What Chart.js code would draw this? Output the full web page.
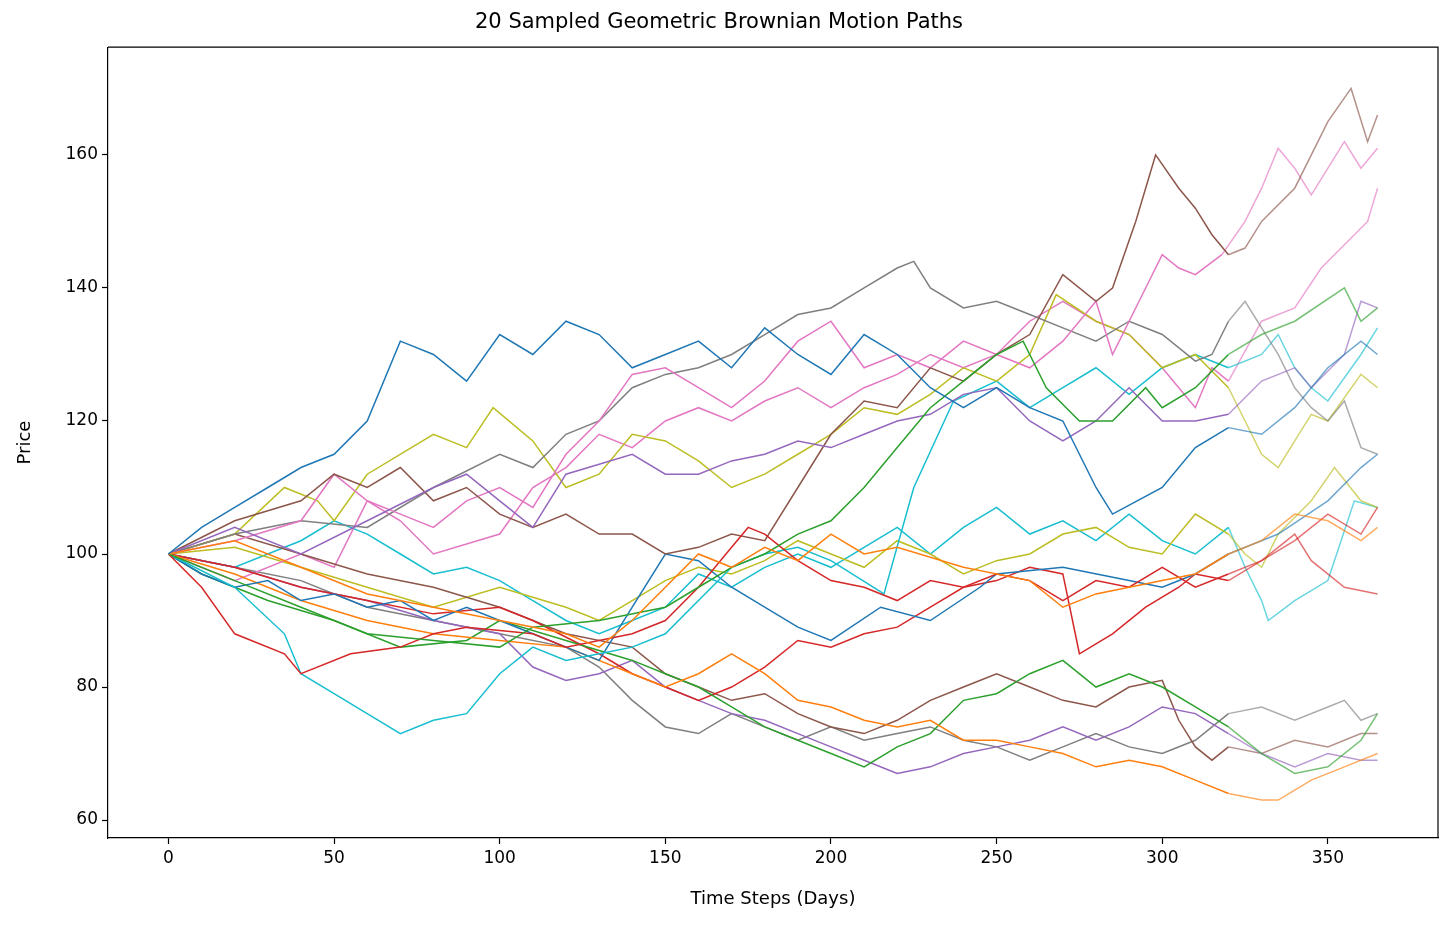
<!DOCTYPE html>
<html>
<head>
<meta charset="utf-8">
<script src="https://cdn.jsdelivr.net/npm/chart.js@4"></script>
<style>
  html, body { margin: 0; padding: 0; background: #fff; }
  #wrap { width: 1449px; height: 925px; }
</style>
</head>
<body>
<div id="wrap"><canvas id="gbm"></canvas></div>
<script>
// Paths as [day, price] pairs
const blueTop = [[0,100],[10,104],[20,107],[30,110],[40,113],[50,115],[60,120],[70,132],[80,130],[90,126],[100,133],[110,130],[120,135],[130,133],[140,128],[150,130],[160,132],[170,128],[180,134],[190,130],[200,127],[210,133],[220,130],[230,125],[240,122],[250,125],[260,122],[270,120],[280,110],[285,106],[300,110],[310,116],[320,119],[330,118],[340,122],[350,128],[360,132],[365,130]];
const blueMid = [[0,100],[10,97],[20,95],[30,96],[40,93],[50,94],[60,92],[70,93],[80,90],[90,92],[100,90],[110,88],[120,86],[130,84],[140,92],[150,100],[160,99],[170,95],[180,92],[190,89],[200,87],[215,92],[230,90],[245,95],[250,97],[270,98],[290,96],[300,95],[310,97],[320,100],[335,103],[350,108],[360,113],[365,115]];
const orangeUp = [[0,100],[20,102],[40,98],[60,94],[80,92],[100,90],[120,88],[130,86],[140,90],[150,95],[160,100],[170,98],[180,101],[190,99],[200,103],[210,100],[220,101],[240,98],[260,96],[270,92],[280,94],[300,96],[310,97],[320,100],[330,102],[340,106],[350,105],[360,102],[365,104]];
const orangeLow = [[0,100],[20,97],[40,93],[60,90],[80,88],[100,87],[120,86],[140,82],[150,80],[160,82],[170,85],[180,82],[190,78],[200,77],[210,75],[220,74],[230,75],[240,72],[250,72],[260,71],[270,70],[280,68],[290,69],[300,68],[310,66],[320,64],[330,63],[335,63],[345,66],[355,68],[365,70]];
const greenUp = [[0,100],[20,96],[40,92],[60,88],[80,87],[100,86],[110,89],[130,90],[150,92],[160,95],[170,98],[180,100],[190,103],[200,105],[210,110],[220,116],[230,122],[240,126],[250,130],[258,132],[265,125],[275,120],[285,120],[295,125],[300,122],[310,125],[320,130],[330,133],[340,135],[355,140],[360,135],[365,137]];
const greenLow = [[0,100],[10,97],[30,93],[50,90],[70,86],[90,87],[100,90],[120,87],[140,84],[150,82],[160,80],[170,77],[180,74],[190,72],[200,70],[210,68],[220,71],[230,73],[240,78],[250,79],[260,82],[270,84],[280,80],[290,82],[300,80],[310,77],[320,74],[330,70],[340,67],[350,68],[360,72],[365,76]];
const redLow = [[0,100],[10,95],[20,88],[35,85],[40,82],[55,85],[70,86],[80,88],[90,89],[110,88],[120,86],[130,87],[140,88],[150,90],[160,95],[170,101],[175,104],[180,103],[190,99],[200,96],[210,95],[220,93],[230,96],[240,95],[250,97],[260,96],[270,93],[280,96],[290,95],[300,98],[310,95],[320,97],[330,99],[340,103],[345,99],[355,95],[365,94]];
const redMid = [[0,100],[20,98],[40,95],[60,93],[80,91],[100,92],[110,90],[130,85],[140,82],[150,80],[160,78],[170,80],[180,83],[190,87],[200,86],[210,88],[220,89],[230,92],[240,95],[250,96],[260,98],[270,97],[275,85],[285,88],[295,92],[305,95],[310,97],[320,96],[330,99],[340,102],[350,106],[360,103],[365,107]];
const purpleUp = [[0,100],[20,104],[40,100],[60,105],[80,110],[90,112],[100,108],[110,104],[120,112],[140,115],[150,112],[160,112],[170,114],[180,115],[190,117],[200,116],[210,118],[220,120],[230,121],[240,124],[250,125],[260,120],[270,117],[280,120],[290,125],[300,120],[310,120],[320,121],[330,126],[340,128],[345,125],[355,130],[360,138],[365,137]];
const purpleLow = [[0,100],[20,98],[40,95],[60,93],[80,90],[100,88],[110,83],[120,81],[130,82],[140,84],[150,80],[160,78],[170,76],[180,75],[190,73],[200,71],[210,69],[220,67],[230,68],[240,70],[250,71],[260,72],[270,74],[280,72],[290,74],[300,77],[310,76],[320,73],[330,70],[340,68],[350,70],[360,69],[365,69]];
const brownUp = [[0,100],[20,105],[40,108],[50,112],[60,110],[70,113],[80,108],[90,110],[100,106],[110,104],[120,106],[130,103],[140,103],[150,100],[160,101],[170,103],[180,102],[190,110],[200,118],[210,123],[220,122],[230,128],[240,126],[250,130],[260,133],[270,142],[280,138],[285,140],[292,150],[298,160],[305,155],[310,152],[315,148],[320,145],[325,146],[330,150],[340,155],[350,165],[357,170],[362,162],[365,166]];
const brownLow = [[0,100],[20,103],[40,100],[60,97],[80,95],[100,92],[120,88],[140,86],[150,82],[160,80],[170,78],[180,79],[190,76],[200,74],[210,73],[220,75],[230,78],[240,80],[250,82],[260,80],[270,78],[280,77],[290,80],[300,81],[305,75],[310,71],[315,69],[320,71],[330,70],[340,72],[350,71],[360,73],[365,73]];
const pinkTop = [[0,100],[20,102],[40,105],[50,112],[60,108],[70,106],[80,104],[90,108],[100,110],[110,107],[120,115],[130,120],[140,127],[150,128],[160,125],[170,122],[180,126],[190,132],[200,135],[210,128],[220,130],[230,128],[240,132],[250,130],[260,128],[270,132],[280,138],[285,130],[295,140],[300,145],[305,143],[310,142],[318,145],[325,150],[330,155],[335,161],[340,158],[345,154],[355,162],[360,158],[365,161]];
const pinkMid = [[0,100],[20,96],[40,100],[50,98],[60,108],[70,105],[80,100],[100,103],[110,110],[120,113],[130,118],[140,116],[150,120],[160,122],[170,120],[180,123],[190,125],[200,122],[210,125],[220,127],[230,130],[240,128],[250,130],[260,135],[270,138],[280,135],[290,133],[300,128],[305,125],[310,122],[315,128],[320,126],[330,135],[340,137],[348,143],[358,148],[362,150],[365,155]];
const grayUp = [[0,100],[20,103],[40,105],[60,104],[80,110],[100,115],[110,113],[120,118],[130,120],[140,125],[150,127],[160,128],[170,130],[180,133],[190,136],[200,137],[210,140],[220,143],[225,144],[230,140],[240,137],[250,138],[260,136],[270,134],[280,132],[290,135],[300,133],[310,129],[315,130],[320,135],[325,138],[330,134],[335,130],[340,125],[345,122],[350,120],[355,123],[360,116],[365,115]];
const grayLow = [[0,100],[20,98],[40,96],[60,92],[80,90],[100,88],[120,86],[130,83],[140,78],[150,74],[160,73],[170,76],[180,74],[190,72],[200,74],[210,72],[220,73],[230,74],[240,72],[250,71],[260,69],[270,71],[280,73],[290,71],[300,70],[310,72],[320,76],[330,77],[340,75],[350,77],[355,78],[360,75],[365,76]];
const oliveUp = [[0,100],[20,103],[35,110],[45,108],[50,105],[60,112],[80,118],[90,116],[98,122],[110,117],[120,110],[130,112],[140,118],[150,117],[160,114],[170,110],[180,112],[190,115],[200,118],[210,122],[220,121],[230,124],[240,128],[250,126],[260,130],[268,139],[280,135],[290,133],[300,128],[310,130],[320,125],[325,120],[330,115],[335,113],[340,117],[345,121],[350,120],[360,127],[365,125]];
const oliveLow = [[0,100],[20,101],[40,98],[60,95],[80,92],[100,95],[120,92],[130,90],[140,93],[150,96],[160,98],[170,97],[180,99],[190,102],[200,100],[210,98],[220,102],[230,100],[240,97],[250,99],[260,100],[270,103],[280,104],[290,101],[300,100],[310,106],[320,103],[325,100],[330,98],[335,103],[345,108],[352,113],[360,108],[365,107]];
const cyanUp = [[0,100],[20,95],[35,88],[40,82],[50,79],[60,76],[70,73],[80,75],[90,76],[100,82],[110,86],[120,84],[130,85],[140,86],[150,88],[160,93],[170,98],[180,100],[190,101],[200,99],[216,94],[225,110],[237,123],[250,126],[260,122],[270,125],[280,128],[290,124],[300,128],[310,130],[320,128],[330,130],[335,133],[340,128],[345,125],[350,123],[360,130],[365,134]];
const cyanLow = [[0,100],[20,98],[40,102],[50,105],[60,103],[70,100],[80,97],[90,98],[100,96],[110,93],[120,90],[130,88],[140,90],[150,92],[160,97],[170,95],[180,98],[190,100],[200,98],[210,101],[220,104],[230,100],[240,104],[250,107],[260,103],[270,105],[280,102],[290,106],[300,102],[310,100],[320,104],[325,98],[330,93],[332,90],[340,93],[350,96],[358,108],[365,107]];

const pathNames = ['blueTop','orangeUp','greenUp','redLow','purpleUp','brownUp','pinkTop','grayUp','oliveUp','cyanUp',
                   'blueMid','orangeLow','greenLow','redMid','purpleLow','brownLow','pinkMid','grayLow','oliveLow','cyanLow'];
const paths = [blueTop, orangeUp, greenUp, redLow, purpleUp, brownUp, pinkTop, grayUp, oliveUp, cyanUp,
               blueMid, orangeLow, greenLow, redMid, purpleLow, brownLow, pinkMid, grayLow, oliveLow, cyanLow];
const xTicks = [0, 50, 100, 150, 200, 250, 300, 350];
const yTicks = [60, 80, 100, 120, 140, 160];

const tab10 = ['31,119,180','255,127,14','44,160,44','214,39,40','148,103,189',
               '140,86,75','227,119,194','127,127,127','188,189,34','23,190,207'];
const FADE_DAY = 318;

const datasets = paths.map((p, i) => {
    const rgb = tab10[i % 10];
    return {
        label: pathNames[i],
        data: p.map(d => ({ x: d[0], y: d[1] })),
        borderColor: 'rgb(' + rgb + ')',
        borderWidth: 1.5,
        pointRadius: 0,
        tension: 0,
        segment: {
            borderColor: ctx => ctx.p0.parsed.x >= FADE_DAY ? 'rgba(' + rgb + ',0.65)' : 'rgb(' + rgb + ')'
        }
    };
});

const tickFont = { family: 'DejaVu Sans', size: 17 };
const axisGrid = { display: true, drawOnChartArea: false, drawTicks: true, tickLength: 6, tickColor: '#000', tickWidth: 1.2 };

new Chart(document.getElementById('gbm'), {
    type: 'line',
    data: { datasets: datasets },
    options: {
        responsive: true,
        maintainAspectRatio: false,
        animation: false,
        layout: { padding: { left: 0, right: 11, top: 0, bottom: 0 } },
        plugins: {
            legend: { display: false },
            tooltip: { enabled: false },
            title: {
                display: true,
                text: '20 Sampled Geometric Brownian Motion Paths',
                color: '#000',
                font: { family: 'DejaVu Sans', size: 21, weight: 'normal' },
                padding: { top: 10, bottom: 12 }
            }
        },
        scales: {
            x: {
                type: 'linear',
                min: -18.25,
                max: 383.25,
                afterBuildTicks: s => { s.ticks = xTicks.map(v => ({ value: v })); },
                afterFit: s => { s.height = 87; },
                grid: axisGrid,
                border: { color: '#000', width: 1.2 },
                ticks: { color: '#000', font: tickFont, padding: 4, maxRotation: 0 },
                title: { display: true, text: 'Time Steps (Days)', color: '#000',
                         font: { family: 'DejaVu Sans', size: 18 }, padding: { top: 15, bottom: 15 } }
            },
            y: {
                min: 57.3,
                max: 176.2,
                afterBuildTicks: s => { s.ticks = yTicks.map(v => ({ value: v })); },
                afterFit: s => { s.width = 108; },
                grid: axisGrid,
                border: { color: '#000', width: 1.2 },
                ticks: { color: '#000', font: tickFont, padding: 4 },
                title: { display: true, text: 'Price', color: '#000',
                         font: { family: 'DejaVu Sans', size: 18 }, padding: { top: 15, bottom: 15 } }
            }
        }
    },
    plugins: [{
        id: 'topRightBorder',
        afterDraw(chart) {
            const a = chart.chartArea, c = chart.ctx;
            c.save();
            c.strokeStyle = '#000';
            c.lineWidth = 1.2;
            c.beginPath();
            c.moveTo(a.left, a.top); c.lineTo(a.right, a.top); c.lineTo(a.right, a.bottom);
            c.stroke();
            c.restore();
        }
    }]
});
</script>
</body>
</html>
